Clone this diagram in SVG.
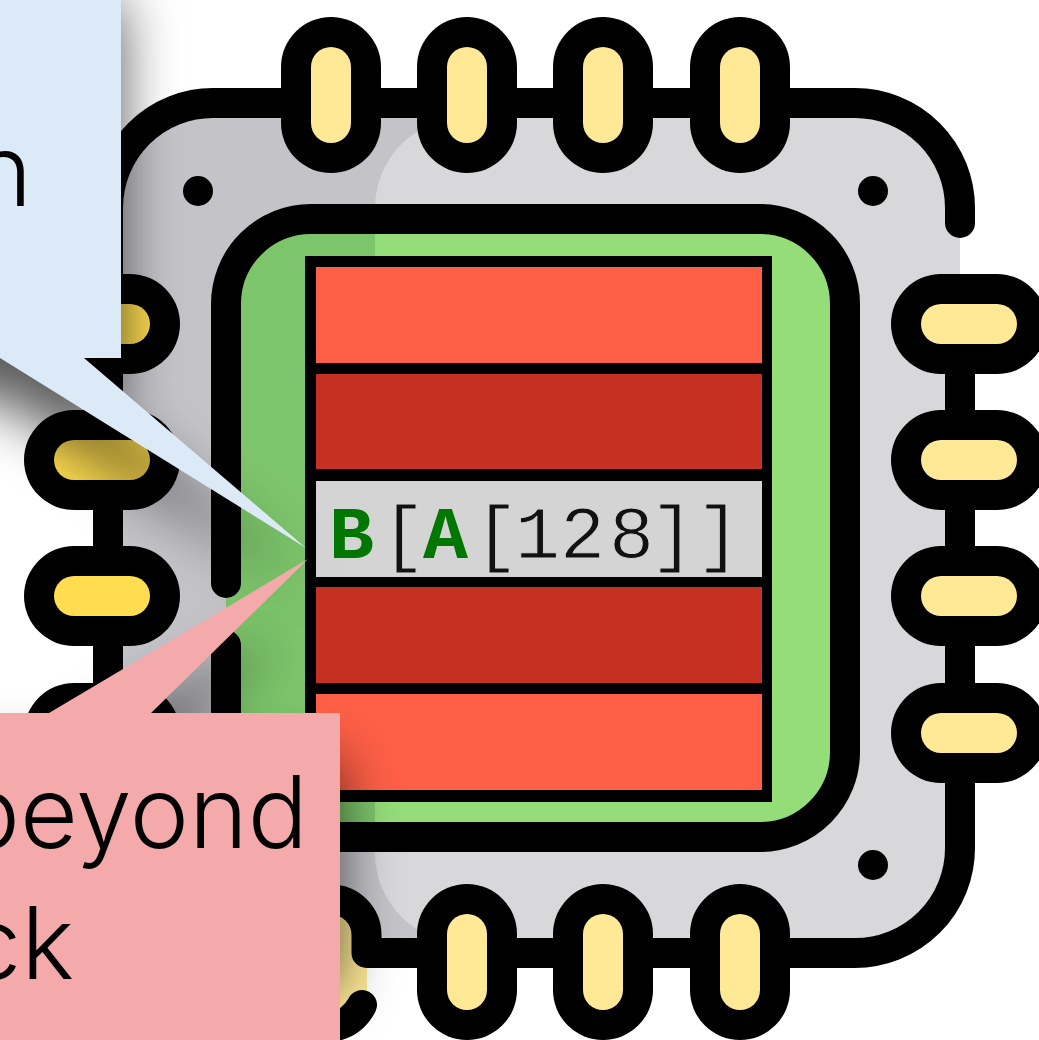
<svg xmlns="http://www.w3.org/2000/svg" width="1039" height="1040" viewBox="0 0 1039 1040">
<style>
.k{fill:#000}
.y{fill:#ffe997}
.yl{fill:#ffdc50}
.ln{fill:none;stroke:#000;stroke-width:30;stroke-linecap:round;stroke-linejoin:round}
.cap{font-family:"Inter","Liberation Sans",sans-serif;font-weight:300;font-size:100px;fill:#000}
.code{font-family:"Liberation Mono",monospace;font-size:75px;fill:#111;stroke:#d4d4d4;stroke-width:1}
.hl{font-weight:700;fill:#007700;stroke:none}
.sh{fill:#000;fill-opacity:.65;filter:url(#blur)}
</style>
<defs>
<filter id="blur" filterUnits="userSpaceOnUse" x="-700" y="-500" width="1900" height="2000">
<feGaussianBlur stdDeviation="28"/>
</filter>
<clipPath id="body"><rect x="108" y="103" width="852" height="850" rx="105"/></clipPath>
<g id="pinV"><rect x="-50" y="-78" width="100" height="156" rx="50" class="k"/><rect x="-20" y="-48" width="40" height="96" rx="20" class="y"/></g>
<g id="pinH"><rect x="-78" y="-50" width="156" height="100" rx="50" class="k"/><rect x="-48" y="-20" width="96" height="40" rx="20" class="y"/></g>
<g id="pinL"><rect x="-78" y="-50" width="156" height="100" rx="50" class="k"/><rect x="-48" y="-20" width="96" height="40" rx="20" class="yl"/></g>
</defs>
<rect width="1039" height="1040" fill="#fff"/>
<g id="chip">
<rect x="108" y="103" width="852" height="850" rx="105" fill="#c4c3c8"/>
<path clip-path="url(#body)" d="M465 118H970V960H480V943H465A90 90 0 0 1 375 853V208A90 90 0 0 1 465 118Z" fill="#d8d8da"/>
<path class="ln" d="M108 300V208A105 105 0 0 1 213 103H855A105 105 0 0 1 960 208V223M960 340V700M960 740V848A105 105 0 0 1 855 953H420M108 340V760"/>
<rect x="226" y="219" width="619" height="618" rx="85" fill="#94dd79"/>
<path d="M311 219A85 85 0 0 0 226 304V752A85 85 0 0 0 311 837H375V219Z" fill="#7dc56b"/>
<path class="ln" d="M226 583V304A85 85 0 0 1 311 219H760A85 85 0 0 1 845 304V752A85 85 0 0 1 760 837H311A85 85 0 0 1 226 752V645"/>
<circle cx="198" cy="191" r="15" class="k"/><circle cx="873" cy="191" r="15" class="k"/><circle cx="873" cy="865" r="15" class="k"/>
<use href="#pinV" x="331" y="95"/><use href="#pinV" x="467" y="95"/><use href="#pinV" x="603" y="95"/><use href="#pinV" x="740" y="95"/>
<use href="#pinV" x="467" y="962"/><use href="#pinV" x="603" y="962"/><use href="#pinV" x="740" y="962"/>
<use href="#pinH" x="969" y="324"/><use href="#pinH" x="969" y="460"/><use href="#pinH" x="969" y="596"/><use href="#pinH" x="969" y="733"/>
<use href="#pinL" x="102" y="324"/><use href="#pinL" x="102" y="460"/><use href="#pinL" x="102" y="596"/><use href="#pinL" x="102" y="733"/>
<rect x="300" y="912" width="67" height="105" fill="#ffe997"/>
<path class="ln" d="M331 899.5A35.5 35.5 0 0 1 366.5 935V953H420M331 1027Q352 1024 362 1005"/>
</g>
<g id="memory">
<rect x="305" y="256" width="467" height="546" class="k"/>
<rect x="316" y="267" width="446" height="96" fill="#ff5f46"/>
<rect x="316" y="374" width="446" height="95" fill="#c63023"/>
<rect x="316" y="481" width="446" height="96" fill="#d4d4d4"/>
<rect x="316" y="587" width="446" height="96" fill="#c63023"/>
<rect x="316" y="694" width="446" height="96" fill="#ff5f46"/>
<text class="code" y="558"><tspan class="hl" x="329">B</tspan><tspan x="381">[</tspan><tspan class="hl" x="423">A</tspan><tspan x="474">[</tspan><tspan x="515 560 609 650 696">128]]</tspan></text>
</g>
<g id="callout-blue">
<path class="sh" d="M-500 0H121V398H84L306 588L0 398H-500Z"/>
<path d="M-500 -300H121V358H84L306 548L0 358H-500Z" fill="#dce9f6"/>
<text class="cap" x="32" y="206" text-anchor="end">n</text>
</g>
<g id="callout-pink">
<path class="sh" d="M-500 758H49L280 635L151 758H340V992H-500Z"/>
<path d="M-500 713H49L308 559L151 713H340V1400H-500Z" fill="#f4aaaa"/>
<text class="cap" x="308" y="848" text-anchor="end">beyond</text>
<text class="cap" x="74" y="979" text-anchor="end">ck</text>
</g>
</svg>
